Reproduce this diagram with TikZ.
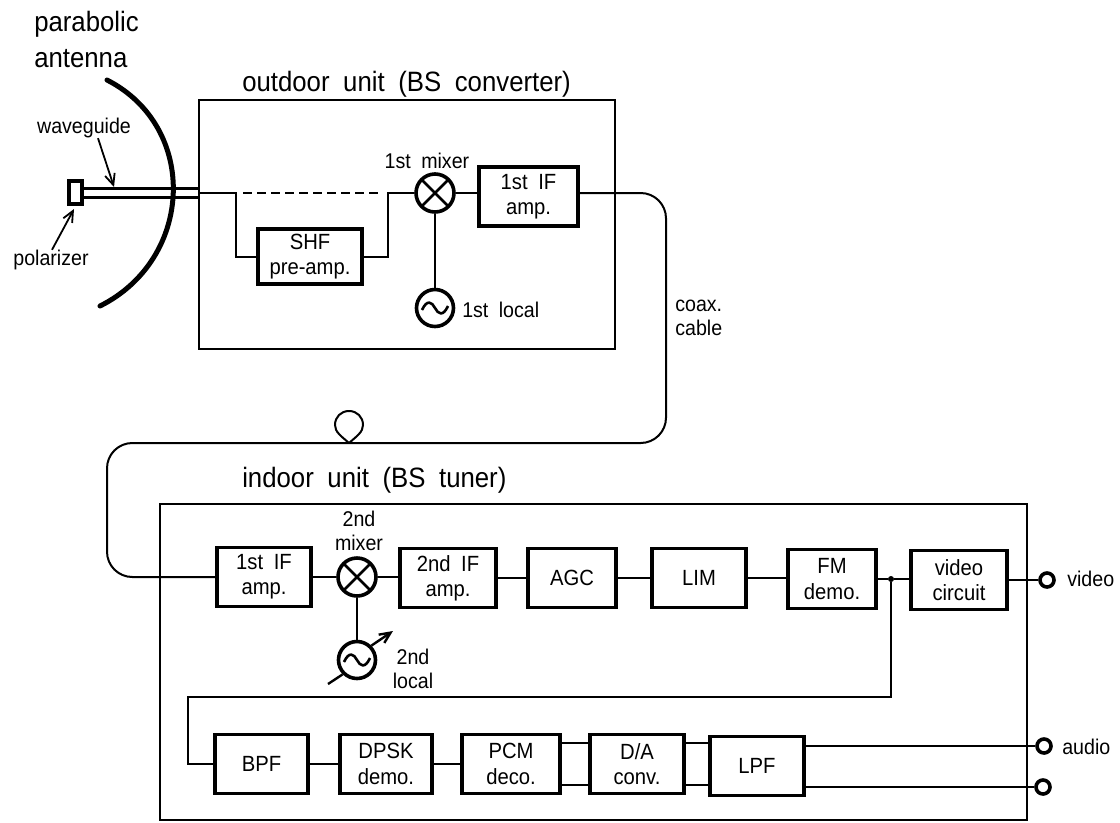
\documentclass[tikz,border=0pt]{standalone}
\usepackage{fontspec}
\setmainfont[WordSpace=1.9]{Liberation Sans}
\newfontfamily\tallfont[WordSpace=1.9,FakeStretch=0.92]{Liberation Sans}
\usepackage{tikz}
\usetikzlibrary{arrows.meta}
\def\px{0.75pt}

\begin{document}
\begin{tikzpicture}[
		x=0.75pt, y=-0.75pt,
		wire/.style={line width=2*\px},
		block/.style={rectangle, draw, line width=3.6*\px,
				minimum height=59*\px, inner sep=0pt, align=center,
				font=\tallfont\fontsize{16.5}{19}\selectfont},
		unitbox/.style={rectangle, draw, line width=2*\px, inner sep=0pt},
		mixer/.style={circle, draw, line width=3.6*\px, minimum size=38*\px, inner sep=0pt,
				path picture={
						\draw[line width=2.6*\px] (path picture bounding box.north west) -- (path picture bounding box.south east);
						\draw[line width=2.6*\px] (path picture bounding box.north east) -- (path picture bounding box.south west);
					}},
		osc/.style={circle, draw, line width=3.6*\px, minimum size=37*\px, inner sep=0pt,
				path picture={
						\draw[line width=2.6*\px] (-13,2) .. controls (-8,-9) and (-3,-6) .. (0,0)
						.. controls (3,6) and (8,9) .. (13,-2);
					}},
		term/.style={circle, draw, line width=3.6*\px, minimum size=14*\px, inner sep=0pt},
		lbl/.style={align=center, inner sep=0pt, font=\tallfont\fontsize{16}{18.5}\selectfont},
		biglbl/.style={align=left, inner sep=0pt, font=\tallfont\fontsize{21}{27}\selectfont},
		ptr/.style={line width=1.8*\px, -{Straight Barb[length=11*\px, width=10*\px]}},
		]

	\useasboundingbox (0,0) rectangle (1120,822);

	% ---- titles ----
	\node[biglbl, anchor=west] (antlbl) at (34,39) {parabolic\\antenna};
	\node[biglbl, anchor=west] (outlbl) at (242,84) {outdoor unit (BS converter)};
	\node[biglbl, anchor=west] (inlbl) at (242,480) {indoor unit (BS tuner)};

	% ---- unit frames ----
	\node[unitbox, minimum width=416*\px, minimum height=249*\px] (outdoor) at (407,224.5) {};
	\node[unitbox, minimum width=867*\px, minimum height=316*\px] (indoor) at (593.5,662) {};

	% ---- antenna ----
	\draw[line width=5*\px, line cap=round] (107,80) .. controls (199,127) and (194,259) .. (100,306);
	\node[rectangle, draw, line width=3.4*\px, minimum width=13*\px, minimum height=23*\px, inner sep=0pt] (pol) at (75.5,192.5) {};
	\coordinate (wgtop) at (199,188);
	\coordinate (wgbot) at (199,197);
	\draw[line width=3*\px] (pol.east |- wgtop) -- (wgtop);
	\draw[line width=3*\px] (pol.east |- wgbot) -- (wgbot);
	\node[lbl] (wglbl) at (84,128) {waveguide};
	\node[lbl] (pollbl) at (51,260) {polarizer};
	\coordinate (wgtip) at (114,187);
	\coordinate (poltip) at (74,209);
	\draw[ptr] ([xshift=14*\px]wglbl.south) -- (wgtip);
	\draw[ptr] ([xshift=1*\px]pollbl.north) -- (poltip);

	% ---- outdoor unit ----
	\node[block, minimum width=104*\px, minimum height=55*\px] (shf) at (310,256.5) {SHF\\pre-amp.};
	\node[mixer] (mix1) at (435,193) {};
	\node[block, minimum width=99*\px] (ifa) at (528.5,196.5) {1st IF\\amp.};
	\node[osc] (loc1) at (435,308) {};
	\node[lbl] (mix1lbl) at (427,161) {1st mixer};
	\node[lbl, anchor=west] (loc1lbl) at (462,310) {1st local};

	\coordinate (feed) at (199,193);
	\coordinate (byp) at (236,193);
	\coordinate (dashend) at (383,193);
	\coordinate (joint) at (388,193);
	\draw[wire] (feed) -- (byp) |- (shf.west);
	\draw[wire, dashed, dash pattern=on 9*\px off 5*\px] (243,193) -- (dashend);
	\draw[wire] (shf.east) -| (joint) -- (mix1.west);
	\draw[wire] (mix1.east) -- (mix1.east -| ifa.west);
	\draw[wire] (mix1.south) -- (loc1.north);

	% ---- coax cable ----
	\coordinate (loopbase) at (349,443);
	\draw[wire, rounded corners=19pt] (ifa.east |- mix1) -- (666,193) -- (666,443) -- (107,443) -- (107,577) -- (216,577);
	\draw[wire] (loopbase) .. controls (341,436) and (335,432) .. (335,425) .. controls (335,417) and (341,411) .. (349,411)
	.. controls (357,411) and (363,417) .. (363,425) .. controls (363,432) and (357,436) .. (loopbase);
	\node[lbl, anchor=west, align=left] (coaxlbl) at (675,318) {coax.\\cable};

	% ---- indoor unit, upper row ----
	\node[block, minimum width=94*\px] (ifb) at (264,577) {1st IF\\amp.};
	\node[mixer] (mix2) at (357,577) {};
	\node[block, minimum width=96*\px] (ifc) at (448,578) {2nd IF\\amp.};
	\node[block, minimum width=88*\px] (agc) at (572,578) {AGC};
	\node[block, minimum width=94*\px] (lim) at (699,578) {LIM};
	\node[block, minimum width=88*\px] (fm) at (832,579) {FM\\demo.};
	\node[block, minimum width=96*\px] (vid) at (959,580) {video\\circuit};
	\node[osc] (loc2) at (357,660) {};
	\node[lbl] (mix2lbl) at (359,531) {2nd\\mixer};
	\node[lbl] (loc2lbl) at (413,669) {2nd\\local};
	\coordinate (varbase) at (328,684);
	\coordinate (vartip) at (393,631);
	\node[circle, fill, minimum size=6*\px, inner sep=0pt] (jct) at (891,579) {};
	\node[term] (tvid) at (1047,580) {};
	\node[lbl, anchor=west] (vidlbl) at (1067,579) {video};

	\draw[wire] (ifb.east) -- (mix2.west);
	\draw[wire] (mix2.east) -- (mix2.east -| ifc.west);
	\draw[wire] (ifc.east) -- (agc.west);
	\draw[wire] (agc.east) -- (lim.west);
	\draw[wire] (lim.east) -- (lim.east -| fm.west);
	\draw[wire] (fm.east) -- (jct);
	\draw[wire] (jct) -- (jct -| vid.west);
	\draw[wire] (vid.east) -- (tvid);
	\draw[wire] (mix2.south) -- (loc2.north);
	\draw[line width=2.4*\px] (varbase) -- (loc2.south west);
	\draw[ptr, line width=2.4*\px] (loc2.north east) -- (vartip);

	% ---- indoor unit, lower row ----
	\node[block, minimum width=93*\px] (bpf) at (261.5,764) {BPF};
	\node[block, minimum width=92*\px] (dpsk) at (386,764) {DPSK\\demo.};
	\node[block, minimum width=98*\px] (pcm) at (511,764) {PCM\\deco.};
	\node[block, minimum width=94*\px] (da) at (637,764) {D/A\\conv.};
	\node[block, minimum width=94*\px] (lpf) at (757,766) {LPF};
	\node[term] (taud) at (1044,746) {};
	\node[term] (tnc) at (1043,787) {};
	\node[lbl, anchor=west] (audlbl) at (1062,747) {audio};

	\coordinate (fback) at (188,697);
	\draw[wire] (jct) |- (fback) |- (bpf.west);
	\draw[wire] (bpf.east) -- (dpsk.west);
	\draw[wire] (dpsk.east) -- (pcm.west);
	\draw[wire] ([yshift=21*\px]pcm.east) -- ([yshift=21*\px]da.west);
	\draw[wire] ([yshift=-21*\px]pcm.east) -- ([yshift=-21*\px]da.west);
	\draw[wire] ([yshift=21*\px]da.east) -- ([yshift=21*\px]da.east -| lpf.west);
	\draw[wire] ([yshift=-21*\px]da.east) -- ([yshift=-21*\px]da.east -| lpf.west);
	\draw[wire] (lpf.east |- taud) -- (taud);
	\draw[wire] (lpf.east |- tnc) -- (tnc);

\end{tikzpicture}
\end{document}
